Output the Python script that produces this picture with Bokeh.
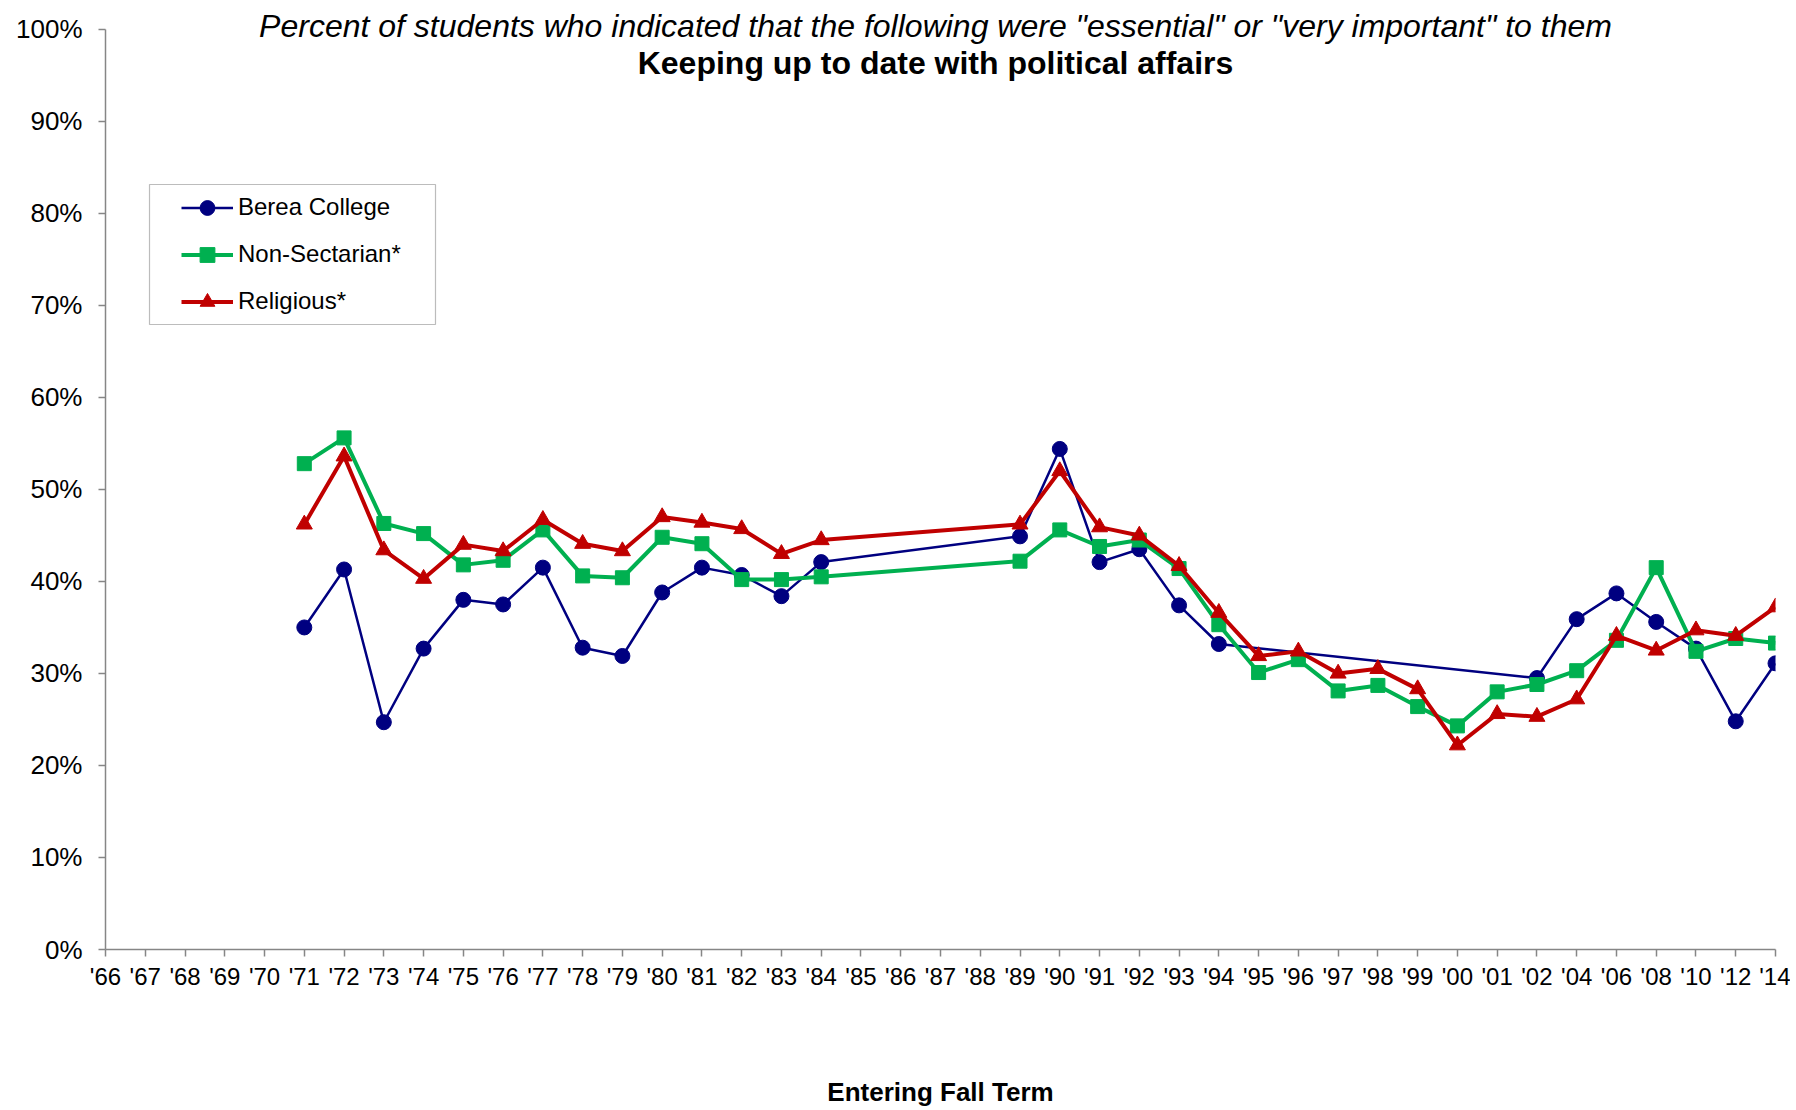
from bokeh.plotting import figure
from bokeh.models import (Legend, LegendItem, Label, BoxAnnotation, FixedTicker,
                          PrintfTickFormatter, Range1d)
from bokeh.embed import file_html
from bokeh.resources import INLINE

categories = ["'66", "'67", "'68", "'69", "'70", "'71", "'72", "'73", "'74", "'75",
              "'76", "'77", "'78", "'79", "'80", "'81", "'82", "'83", "'84", "'85",
              "'86", "'87", "'88", "'89", "'90", "'91", "'92", "'93", "'94", "'95",
              "'96", "'97", "'98", "'99", "'00", "'01", "'02", "'04", "'06", "'08",
              "'10", "'12", "'14"]

berea = [None, None, None, None, None,
         35.0, 41.3, 24.7, 32.7, 38.0, 37.5, 41.5, 32.8, 31.9, 38.8, 41.5, 40.7, 38.4, 42.1,
         None, None, None, None,
         44.9, 54.4, 42.1, 43.5, 37.4, 33.2,
         None, None, None, None, None, None, None,
         29.5, 35.9, 38.7, 35.6, 32.7, 24.8, 31.1]

non_sectarian = [None, None, None, None, None,
                 52.8, 55.6, 46.3, 45.2, 41.8, 42.3, 45.6, 40.6, 40.4, 44.8, 44.1, 40.2, 40.2, 40.5,
                 None, None, None, None,
                 42.2, 45.6, 43.8, 44.5, 41.4, 35.3, 30.1, 31.5, 28.1, 28.7, 26.4, 24.3, 28.0, 28.8,
                 30.3, 33.6, 41.5, 32.4, 33.8, 33.3]

religious = [None, None, None, None, None,
             46.2, 53.6, 43.4, 40.3, 44.0, 43.3, 46.7, 44.1, 43.3, 47.0, 46.4, 45.7, 43.0, 44.5,
             None, None, None, None,
             46.2, 52.0, 45.9, 45.0, 41.7, 36.6, 31.9, 32.4, 30.0, 30.5, 28.3, 22.2, 25.6, 25.3,
             27.2, 34.1, 32.5, 34.7, 34.1, 37.2]

y_ticks = [0, 10, 20, 30, 40, 50, 60, 70, 80, 90, 100]

series_names = ["Berea College", "Non-Sectarian*", "Religious*"]
series_values = [berea, non_sectarian, religious]
series_colors = ["#000080", "#00B050", "#C00000"]
series_markers = ["circle", "square", "triangle"]
series_widths = [2.5, 4, 4]
series_sizes = [15, 14, 16]

FONT = "Liberation Sans"

W, H = 1790, 1109
MB_L, MB_R, MB_T, MB_B = 105, 15, 4, 160
p = figure(width=W, height=H, output_backend="svg", toolbar_location=None,
           x_range=Range1d(0, len(categories) - 1), y_range=Range1d(0, 102.7),
           min_border_left=MB_L, min_border_right=MB_R, min_border_top=MB_T,
           min_border_bottom=MB_B)
p.outline_line_color = None
p.grid.visible = False
p.background_fill_color = "white"
p.border_fill_color = "white"

# axes
p.xaxis.ticker = FixedTicker(ticks=list(range(len(categories))))
p.xaxis.major_label_overrides = {i: c for i, c in enumerate(categories)}
p.yaxis.ticker = FixedTicker(ticks=y_ticks)
p.yaxis.formatter = PrintfTickFormatter(format="%d%%")
p.yaxis.bounds = (0, 100)
for ax in (p.xaxis, p.yaxis):
    ax.axis_line_color = "#868686"
    ax.axis_line_width = 1.5
    ax.major_tick_line_color = "#868686"
    ax.major_tick_line_width = 1.5
    ax.major_tick_out = 7
    ax.major_tick_in = 0
    ax.minor_tick_line_color = None
    ax.major_label_text_font = FONT
    ax.major_label_text_color = "black"
p.xaxis.major_label_text_font_size = "24px"
p.yaxis.major_label_text_font_size = "26px"
p.xaxis.major_label_standoff = 6
p.yaxis.major_label_standoff = 16
p.xaxis.axis_label = "Entering Fall Term"
p.xaxis.axis_label_text_font = FONT
p.xaxis.axis_label_text_font_size = "26px"
p.xaxis.axis_label_text_font_style = "bold"
p.xaxis.axis_label_text_color = "black"
p.xaxis.axis_label_standoff = 84

items = []
for name, vals, col, mk, lw, sz in zip(series_names, series_values, series_colors,
                                       series_markers, series_widths, series_sizes):
    xs = [i for i, v in enumerate(vals) if v is not None]
    ys = [v for v in vals if v is not None]
    r_line = p.line(xs, ys, line_color=col, line_width=lw)
    r_mark = p.scatter(xs, ys, marker=mk, size=sz, fill_color=col, line_color=col)
    items.append(LegendItem(label=name, renderers=[r_line, r_mark]))

# legend box
box = BoxAnnotation(left=44, right=330, bottom=625, top=765,
                    left_units="screen", right_units="screen",
                    top_units="screen", bottom_units="screen",
                    fill_color="white", fill_alpha=1.0,
                    line_color="#222222", line_width=1.2, level="annotation")
p.add_layout(box)

legend = Legend(items=items, location=(76, 629.5), padding=0, spacing=10,
                glyph_width=52, glyph_height=37, label_height=37, label_standoff=5,
                label_text_font=FONT, label_text_font_size="24px",
                label_text_color="black",
                border_line_alpha=0, background_fill_alpha=0, margin=0)
p.add_layout(legend, "center")

t1 = Label(x=830, y=924, x_units="screen", y_units="screen",
           text='Percent of students who indicated that the following were "essential" or "very important" to them',
           text_font=FONT, text_font_size="32px", text_font_style="italic",
           text_color="black", text_align="center", text_baseline="middle")
t2 = Label(x=830, y=887, x_units="screen", y_units="screen",
           text="Keeping up to date with political affairs",
           text_font=FONT, text_font_size="32px", text_font_style="bold",
           text_color="black", text_align="center", text_baseline="middle")
for t in (t1, t2):
    p.add_layout(t)

open("out.html", "w").write(file_html(p, INLINE))
